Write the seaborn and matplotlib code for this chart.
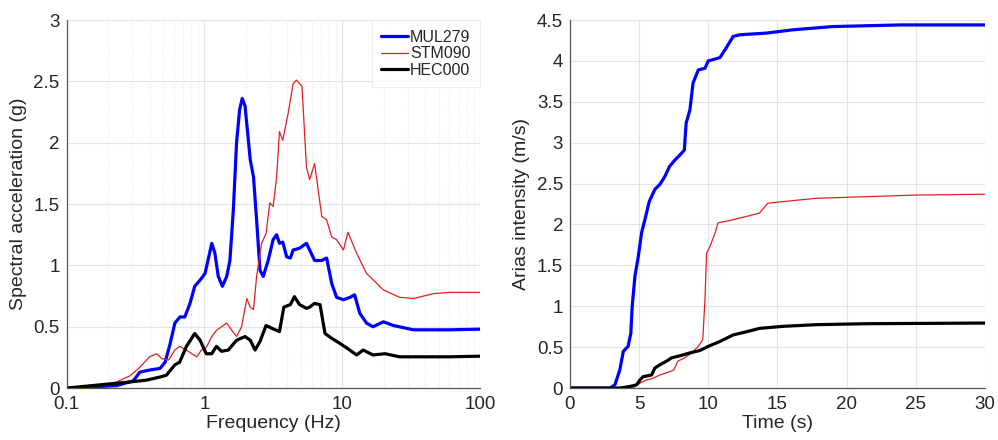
import matplotlib
matplotlib.use("Agg")
import numpy as np
import pandas as pd
import matplotlib.pyplot as plt
import seaborn as sns
from matplotlib.ticker import LogLocator, NullFormatter

# ─── Data ────────────────────────────────────────────────────────────────────
# Left panel: response spectra, frequency (Hz) vs spectral acceleration (g)
mul_freq = [0.1, 0.231, 0.305, 0.34, 0.40, 0.475, 0.518, 0.563, 0.61, 0.664, 0.72,
            0.785, 0.85, 0.93, 1.01, 1.06, 1.13, 1.19, 1.26, 1.35, 1.45, 1.53, 1.62,
            1.71, 1.80, 1.88, 1.97, 2.05, 2.15, 2.27, 2.39, 2.53, 2.67, 2.9, 3.15, 3.34,
            3.5, 3.7, 3.95, 4.2, 4.4, 4.9, 5.5, 6.3, 7.1, 7.7, 8.4, 9.1, 10.2, 11.4, 12.3,
            13.4, 15, 16.7, 19.9, 23.5, 32.8, 60, 100]
mul_sa = [0.0, 0.02, 0.06, 0.13, 0.147, 0.16, 0.21, 0.36, 0.53, 0.58, 0.58,
          0.69, 0.83, 0.88, 0.935, 1.04, 1.18, 1.10, 0.91, 0.83, 0.91, 1.04, 1.45,
          2.0, 2.27, 2.36, 2.30, 2.10, 1.86, 1.72, 1.37, 0.96, 0.91, 1.04, 1.21, 1.25,
          1.18, 1.19, 1.07, 1.06, 1.125, 1.14, 1.18, 1.04, 1.04, 1.06, 0.85, 0.74, 0.72,
          0.74, 0.76, 0.61, 0.53, 0.50, 0.54, 0.51, 0.475, 0.475, 0.48]

stm_freq = [0.1, 0.206, 0.288, 0.34, 0.40, 0.45, 0.49, 0.55, 0.61, 0.66, 0.74, 0.81,
            0.88, 0.95, 1.03, 1.13, 1.22, 1.33, 1.45, 1.58, 1.71, 1.86, 2.03, 2.15,
            2.27, 2.39, 2.6, 2.8, 2.98, 3.15, 3.34, 3.5, 3.7, 4.05, 4.4, 4.65, 5.1,
            5.5, 5.8, 6.3, 7.1, 7.7, 8.4, 9.1, 10.2, 11.0, 12.7, 15, 19.9, 26, 33, 46,
            60, 100]
stm_sa = [0.0, 0.025, 0.10, 0.17, 0.255, 0.28, 0.24, 0.23, 0.31, 0.34, 0.31, 0.28,
          0.255, 0.31, 0.33, 0.42, 0.47, 0.50, 0.53, 0.47, 0.42, 0.50, 0.73, 0.66,
          0.64, 0.91, 1.18, 1.26, 1.51, 1.48, 1.72, 2.09, 2.02, 2.24, 2.48, 2.51, 2.46,
          1.80, 1.70, 1.83, 1.40, 1.37, 1.23, 1.21, 1.125, 1.27, 1.10, 0.935, 0.80, 0.74,
          0.73, 0.77, 0.78, 0.78]

hec_freq = [0.1, 0.288, 0.38, 0.475, 0.53, 0.61, 0.66, 0.74, 0.85, 0.93, 1.03, 1.13,
            1.22, 1.33, 1.49, 1.71, 1.97, 2.15, 2.33, 2.53, 2.8, 3.05, 3.5, 3.77, 4.2,
            4.5, 4.9, 5.5, 5.8, 6.3, 6.9, 7.5, 8.4, 9.6, 11.0, 12.7, 14.2, 16.7, 20.5,
            26, 60, 100]
hec_sa = [0.0, 0.05, 0.065, 0.09, 0.105, 0.19, 0.21, 0.34, 0.445, 0.39, 0.28, 0.28,
          0.34, 0.30, 0.31, 0.39, 0.42, 0.39, 0.31, 0.38, 0.51, 0.49, 0.46, 0.66, 0.68,
          0.745, 0.68, 0.65, 0.66, 0.69, 0.68, 0.445, 0.405, 0.365, 0.32, 0.27, 0.31,
          0.27, 0.28, 0.255, 0.255, 0.26]

# Right panel: Arias intensity, time (s) vs intensity (m/s)
mul_t = [0, 2.9, 3.25, 3.6, 3.86, 4.2, 4.4, 4.5, 4.7, 4.94, 5.18, 5.42, 5.73, 6.14,
         6.5, 6.87, 7.2, 7.6, 7.95, 8.27, 8.4, 8.67, 8.9, 9.28, 9.76, 10.0, 10.84,
         11.3, 11.8, 12.3, 14.2, 16.1, 19.0, 23.9, 30]
mul_ia = [0, 0.0, 0.04, 0.22, 0.45, 0.51, 0.67, 1.0, 1.37, 1.61, 1.90, 2.06, 2.28, 2.43,
          2.49, 2.59, 2.71, 2.79, 2.85, 2.91, 3.24, 3.40, 3.73, 3.89, 3.91, 4.0, 4.04,
          4.16, 4.30, 4.32, 4.34, 4.38, 4.42, 4.44, 4.44]

stm_t = [0, 4.6, 5.06, 5.54, 6.0, 6.5, 7.2, 7.5, 7.8, 8.3, 8.8, 9.28, 9.6, 9.76,
         9.88, 10.12, 10.5, 10.7, 11.3, 12.3, 12.8, 13.7, 14.1, 14.3, 15.4, 17.8,
         21.4, 25, 30]
stm_ia = [0, 0.01, 0.06, 0.10, 0.12, 0.16, 0.20, 0.22, 0.33, 0.37, 0.43, 0.51, 0.59,
          1.08, 1.65, 1.73, 1.90, 2.02, 2.04, 2.08, 2.10, 2.14, 2.22, 2.26, 2.28, 2.32,
          2.34, 2.36, 2.37]

hec_t = [0, 3.6, 4.34, 4.82, 5.06, 5.3, 5.9, 6.14, 6.5, 6.99, 7.35, 7.95, 8.67, 9.4,
         10.0, 10.84, 11.8, 12.8, 13.7, 15.4, 17.8, 21.4, 30]
hec_ia = [0, 0, 0.02, 0.04, 0.10, 0.14, 0.16, 0.245, 0.285, 0.33, 0.37, 0.395, 0.43,
          0.46, 0.51, 0.57, 0.65, 0.69, 0.73, 0.755, 0.775, 0.787, 0.795]

records = ["MUL279", "STM090", "HEC000"]
colors = {"MUL279": "#0000ff", "STM090": "#e02020", "HEC000": "#000000"}
widths = {"MUL279": 2.3, "STM090": 0.9, "HEC000": 2.3}

# ─── Frames ──────────────────────────────────────────────────────────────────
spec_df = pd.concat([
    pd.DataFrame({"freq": mul_freq, "sa": mul_sa, "rec": "MUL279"}),
    pd.DataFrame({"freq": stm_freq, "sa": stm_sa, "rec": "STM090"}),
    pd.DataFrame({"freq": hec_freq, "sa": hec_sa, "rec": "HEC000"}),
])
arias_df = pd.concat([
    pd.DataFrame({"t": mul_t, "ia": mul_ia, "rec": "MUL279"}),
    pd.DataFrame({"t": stm_t, "ia": stm_ia, "rec": "STM090"}),
    pd.DataFrame({"t": hec_t, "ia": hec_ia, "rec": "HEC000"}),
])

# ─── Style ───────────────────────────────────────────────────────────────────
sns.set_style("white")
plt.rcParams["font.family"] = ["Liberation Sans", "DejaVu Sans"]
txt = "#262626"
grid_c = "#e3e3e3"

fig = plt.figure(figsize=(9.98, 4.4), dpi=100)
ax1 = fig.add_axes([0.0668, 0.118, 0.4142, 0.8365])
ax2 = fig.add_axes([0.5711, 0.118, 0.4158, 0.8365])

def style_axes(ax):
    for s in ["top", "right"]:
        ax.spines[s].set_visible(False)
    for s in ["left", "bottom"]:
        ax.spines[s].set_color("#555555")
        ax.spines[s].set_linewidth(0.9)
    ax.tick_params(which="both", direction="in", colors="#555555",
                   labelcolor=txt, labelsize=13.5)
    ax.tick_params(axis="y", pad=5)
    ax.tick_params(axis="x", pad=6)
    ax.tick_params(which="major", length=4, width=0.8)
    ax.tick_params(which="minor", length=2.5, width=0.6)
    ax.grid(True, which="major", color=grid_c, linewidth=0.8)
    ax.set_axisbelow(True)

# Left: spectra
for r in records:
    d = spec_df[spec_df.rec == r]
    sns.lineplot(data=d, x="freq", y="sa", ax=ax1, color=colors[r],
                 linewidth=widths[r], label=r, estimator=None, sort=False)
ax1.set_xscale("log")
ax1.set_xlim(0.1, 100)
ax1.set_ylim(0, 3)
ax1.set_xticks([0.1, 1, 10, 100])
ax1.set_xticklabels(["0.1", "1", "10", "100"])
ax1.xaxis.set_minor_locator(LogLocator(base=10, subs=np.arange(2, 10)))
ax1.xaxis.set_minor_formatter(NullFormatter())
ax1.set_yticks(np.arange(0, 3.01, 0.5))
ax1.set_yticklabels(["0", "0.5", "1", "1.5", "2", "2.5", "3"])
style_axes(ax1)
ax1.grid(True, which="minor", axis="x", color="#e6e6e6", linestyle=":", linewidth=0.8)
ax1.set_xlabel("Frequency (Hz)", fontsize=14, color=txt, labelpad=1)
ax1.set_ylabel("Spectral acceleration (g)", fontsize=14, color=txt, labelpad=5)
leg = ax1.legend(loc="upper right", borderaxespad=0, fontsize=11.5, frameon=True,
                 handlelength=1.7, handletextpad=0.1, labelspacing=0.1,
                 borderpad=0.6, fancybox=False)
leg.get_frame().set_edgecolor("#e8e8e8")
leg.get_frame().set_linewidth(0.8)
for t in leg.get_texts():
    t.set_color(txt)

# Right: Arias intensity
for r in records:
    d = arias_df[arias_df.rec == r]
    sns.lineplot(data=d, x="t", y="ia", ax=ax2, color=colors[r],
                 linewidth=widths[r], estimator=None, sort=False, legend=False)
ax2.set_xlim(0, 30)
ax2.set_ylim(0, 4.5)
ax2.set_xticks(np.arange(0, 31, 5))
ax2.set_yticks(np.arange(0, 4.51, 0.5))
ax2.set_yticklabels(["0", "0.5", "1", "1.5", "2", "2.5", "3", "3.5", "4", "4.5"])
style_axes(ax2)
ax2.set_xlabel("Time (s)", fontsize=14, color=txt, labelpad=1)
ax2.set_ylabel("Arias intensity (m/s)", fontsize=14, color=txt, labelpad=5)

fig.savefig("out.png", dpi=100)
